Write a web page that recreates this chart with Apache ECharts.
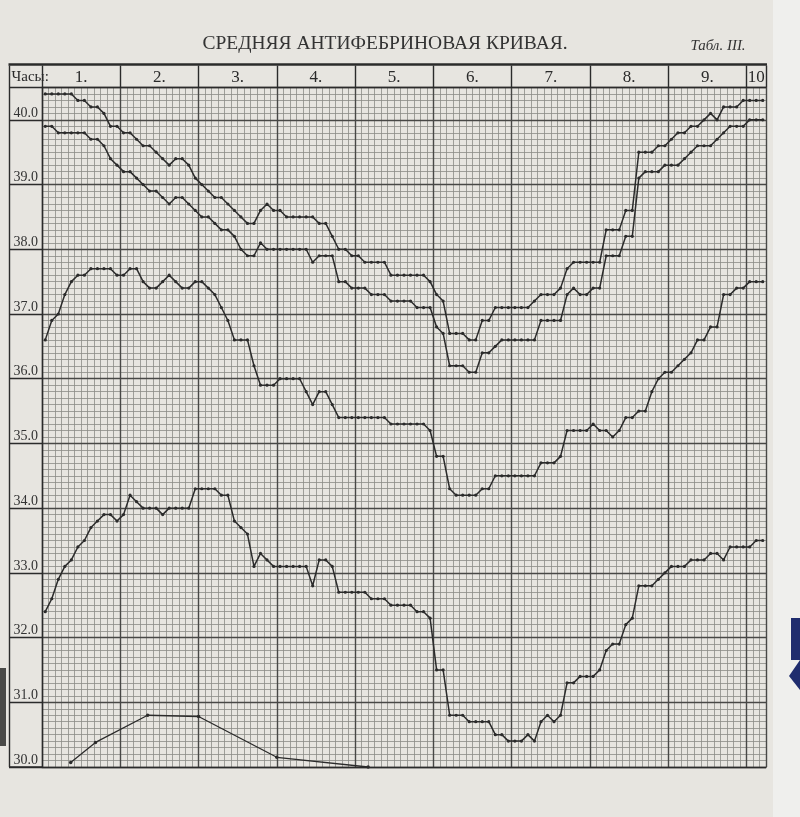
<!DOCTYPE html>
<html><head><meta charset="utf-8">
<script src="https://cdn.jsdelivr.net/npm/echarts@6/dist/echarts.min.js"></script>
<style>html,body{margin:0;padding:0;background:#e7e5e0;}#c{width:800px;height:817px;}</style>
</head><body><div id="c"></div>
<script>
// ---- texts ----
const titleText = 'СРЕДНЯЯ АНТИФЕБРИНОВАЯ КРИВАЯ.';
const tableText = 'Табл. III.';
const hoursText = 'Часы:';
const hourLabels = ['1.', '2.', '3.', '4.', '5.', '6.', '7.', '8.', '9.', '10'];
// ---- axes (minutes / degrees) ----
const timeMax = 555;          // 9 h 15 min
const tempMin = 30.0, tempMax = 40.5;
const stepMinutes = 5;        // one reading every 5 minutes (plotted at mid-cell)
// ---- temperature readings, one per 5-minute cell ----
const curveA = [
  40.4,40.4,40.4,40.4,40.4,40.3,40.3,40.2,40.2,40.1,
  39.9,39.9,39.8,39.8,39.7,39.6,39.6,39.5,39.4,39.3,
  39.4,39.4,39.3,39.1,39.0,38.9,38.8,38.8,38.7,38.6,
  38.5,38.4,38.4,38.6,38.7,38.6,38.6,38.5,38.5,38.5,
  38.5,38.5,38.4,38.4,38.2,38.0,38.0,37.9,37.9,37.8,
  37.8,37.8,37.8,37.6,37.6,37.6,37.6,37.6,37.6,37.5,
  37.3,37.2,36.7,36.7,36.7,36.6,36.6,36.9,36.9,37.1,
  37.1,37.1,37.1,37.1,37.1,37.2,37.3,37.3,37.3,37.4,
  37.7,37.8,37.8,37.8,37.8,37.8,38.3,38.3,38.3,38.6,
  38.6,39.5,39.5,39.5,39.6,39.6,39.7,39.8,39.8,39.9,
  39.9,40.0,40.1,40.0,40.2,40.2,40.2,40.3,40.3,40.3,40.3
];
const curveB = [
  39.9,39.9,39.8,39.8,39.8,39.8,39.8,39.7,39.7,39.6,
  39.4,39.3,39.2,39.2,39.1,39.0,38.9,38.9,38.8,38.7,
  38.8,38.8,38.7,38.6,38.5,38.5,38.4,38.3,38.3,38.2,
  38.0,37.9,37.9,38.1,38.0,38.0,38.0,38.0,38.0,38.0,
  38.0,37.8,37.9,37.9,37.9,37.5,37.5,37.4,37.4,37.4,
  37.3,37.3,37.3,37.2,37.2,37.2,37.2,37.1,37.1,37.1,
  36.8,36.7,36.2,36.2,36.2,36.1,36.1,36.4,36.4,36.5,
  36.6,36.6,36.6,36.6,36.6,36.6,36.9,36.9,36.9,36.9,
  37.3,37.4,37.3,37.3,37.4,37.4,37.9,37.9,37.9,38.2,
  38.2,39.1,39.2,39.2,39.2,39.3,39.3,39.3,39.4,39.5,
  39.6,39.6,39.6,39.7,39.8,39.9,39.9,39.9,40.0,40.0,40.0
];
const curveC = [
  36.6,36.9,37.0,37.3,37.5,37.6,37.6,37.7,37.7,37.7,
  37.7,37.6,37.6,37.7,37.7,37.5,37.4,37.4,37.5,37.6,
  37.5,37.4,37.4,37.5,37.5,37.4,37.3,37.1,36.9,36.6,
  36.6,36.6,36.2,35.9,35.9,35.9,36.0,36.0,36.0,36.0,
  35.8,35.6,35.8,35.8,35.6,35.4,35.4,35.4,35.4,35.4,
  35.4,35.4,35.4,35.3,35.3,35.3,35.3,35.3,35.3,35.2,
  34.8,34.8,34.3,34.2,34.2,34.2,34.2,34.3,34.3,34.5,
  34.5,34.5,34.5,34.5,34.5,34.5,34.7,34.7,34.7,34.8,
  35.2,35.2,35.2,35.2,35.3,35.2,35.2,35.1,35.2,35.4,
  35.4,35.5,35.5,35.8,36.0,36.1,36.1,36.2,36.3,36.4,
  36.6,36.6,36.8,36.8,37.3,37.3,37.4,37.4,37.5,37.5,37.5
];
const curveD = [
  32.4,32.6,32.9,33.1,33.2,33.4,33.5,33.7,33.8,33.9,
  33.9,33.8,33.9,34.2,34.1,34.0,34.0,34.0,33.9,34.0,
  34.0,34.0,34.0,34.3,34.3,34.3,34.3,34.2,34.2,33.8,
  33.7,33.6,33.1,33.3,33.2,33.1,33.1,33.1,33.1,33.1,
  33.1,32.8,33.2,33.2,33.1,32.7,32.7,32.7,32.7,32.7,
  32.6,32.6,32.6,32.5,32.5,32.5,32.5,32.4,32.4,32.3,
  31.5,31.5,30.8,30.8,30.8,30.7,30.7,30.7,30.7,30.5,
  30.5,30.4,30.4,30.4,30.5,30.4,30.7,30.8,30.7,30.8,
  31.3,31.3,31.4,31.4,31.4,31.5,31.8,31.9,31.9,32.2,
  32.3,32.8,32.8,32.8,32.9,33.0,33.1,33.1,33.1,33.2,
  33.2,33.2,33.3,33.3,33.2,33.4,33.4,33.4,33.4,33.5,33.5
];
// bottom curve: sparse points (minutes, scale value)
const curveETimes  = [22, 41, 81, 120, 180, 250];
const curveEValues = [30.07, 30.38, 30.8, 30.78, 30.15, 30.0];

// ---- styles ----
const ink = '#2b2b2b';
const serif = '"Liberation Serif","DejaVu Serif",serif';
const fineGrid = '#8c8b87';
const majorGrid = '#484846';

function toSeries(arr) { return arr.map((v, i) => [i * stepMinutes + stepMinutes / 2, v]); }
function lineSeries(name, data) {
  return {
    name, type: 'line', data, xAxisIndex: 0, yAxisIndex: 0,
    symbol: 'circle', symbolSize: 3.2, showSymbol: true,
    lineStyle: { color: ink, width: 1.5 }, itemStyle: { color: ink },
    z: 5, silent: true, animation: false
  };
}

const chart = echarts.init(document.getElementById('c'), null, { renderer: 'canvas' });
const GL = 42, GR = 34, GT = 87.5, GB = 50;

const option = {
  backgroundColor: '#e7e5e0',
  animation: false,
  grid: { left: GL, right: GR, top: GT, bottom: GB, containLabel: false },
  xAxis: [
    { type: 'value', min: 0, max: timeMax, interval: 60, position: 'bottom', z: 3,
      axisLine: { show: true, lineStyle: { color: ink, width: 1.4 } },
      axisTick: { show: false }, axisLabel: { show: false },
      splitLine: { show: true, lineStyle: { color: majorGrid, width: 1.4 } } },
    { type: 'value', min: 0, max: timeMax, interval: 5, position: 'top', z: 1,
      axisLine: { show: false }, axisTick: { show: false }, axisLabel: { show: false },
      splitLine: { show: true, lineStyle: { color: fineGrid, width: 0.8 } } },
    { type: 'value', min: 0, max: timeMax, interval: 60, position: 'top', z: 3,
      axisLine: { show: true, lineStyle: { color: ink, width: 1.4 } },
      axisTick: { show: true, inside: false, length: 22, lineStyle: { color: ink, width: 1.4 } },
      axisLabel: { show: false }, splitLine: { show: false } }
  ],
  yAxis: [
    { type: 'value', min: tempMin, max: tempMax, interval: 1, z: 3,
      axisLine: { show: true, lineStyle: { color: ink, width: 1.4 } },
      axisTick: { show: true, inside: false, length: 33, lineStyle: { color: ink, width: 1.3 } },
      axisLabel: { show: true, showMaxLabel: false, formatter: v => v.toFixed(1), margin: 4,
        verticalAlign: 'bottom', align: 'right', color: '#333', fontFamily: serif, fontSize: 14 },
      splitLine: { show: true, lineStyle: { color: majorGrid, width: 1.4 } } },
    { type: 'value', min: tempMin, max: tempMax, interval: 0.1, z: 1,
      axisLine: { show: false }, axisTick: { show: false }, axisLabel: { show: false },
      splitLine: { show: true, lineStyle: { color: fineGrid, width: 0.8 } } }
  ],
  series: [
    lineSeries('A', toSeries(curveA)),
    lineSeries('B', toSeries(curveB)),
    lineSeries('C', toSeries(curveC)),
    lineSeries('D', toSeries(curveD)),
    Object.assign(lineSeries('E', curveETimes.map((t, i) => [t, curveEValues[i]])),
      { symbolSize: 3.5, lineStyle: { color: ink, width: 1.3 } })
  ]
};
chart.setOption(option);

// ---- frame, header texts and title, positioned from the axes ----
const P = (x, y) => chart.convertToPixel({ xAxisIndex: 0, yAxisIndex: 0 }, [x, y]);
const [x0, yTop] = P(0, tempMax);
const [xEnd, yBot] = P(timeMax, tempMin);
const frameLeft = 9.5, headerTop = yTop - 22;
const g = [];
// scan edge decorations
g.push({ type: 'rect', shape: { x: 773, y: 0, width: 27, height: 817 }, style: { fill: '#efefed' }, z: -10 });
g.push({ type: 'rect', shape: { x: 791, y: 618, width: 9, height: 42 }, style: { fill: '#1f2c6e' }, z: -9 });
g.push({ type: 'polygon', shape: { points: [[800, 660], [789, 676], [800, 690]] }, style: { fill: '#1f2c6e' }, z: -9 });
g.push({ type: 'rect', shape: { x: 0, y: 668, width: 6, height: 78 }, style: { fill: '#4a4a48' }, z: -9 });
// outer frame
g.push({ type: 'line', shape: { x1: frameLeft, y1: headerTop, x2: frameLeft, y2: yBot }, style: { stroke: ink, lineWidth: 1.4 }, z: 10 });
g.push({ type: 'line', shape: { x1: frameLeft, y1: yBot, x2: x0, y2: yBot }, style: { stroke: ink, lineWidth: 1.4 }, z: 10 });
g.push({ type: 'line', shape: { x1: frameLeft - 1, y1: headerTop - 1, x2: xEnd + 1, y2: headerTop - 1 }, style: { stroke: ink, lineWidth: 2.6 }, z: 10 });
g.push({ type: 'line', shape: { x1: frameLeft, y1: yTop, x2: x0, y2: yTop }, style: { stroke: ink, lineWidth: 1.4 }, z: 10 });
// header labels at column centres
const bounds = [];
for (let m = 0; m < timeMax; m += 60) bounds.push(m);
bounds.push(timeMax);
hourLabels.forEach((lab, i) => {
  const mid = (bounds[i] + bounds[i + 1]) / 2;
  const [cx] = P(mid, tempMax);
  g.push({ type: 'text', x: cx, y: (headerTop + yTop) / 2 + 1,
    style: { text: lab, fill: '#2a2a2a', font: '17px ' + serif, align: 'center', verticalAlign: 'middle' }, z: 11 });
});
g.push({ type: 'text', x: frameLeft + 2, y: (headerTop + yTop) / 2 + 1,
  style: { text: hoursText, fill: '#2a2a2a', font: '15px ' + serif, align: 'left', verticalAlign: 'middle' }, z: 11 });
// title
g.push({ type: 'text', x: 385, y: 44,
  style: { text: titleText, fill: '#333', font: '19.5px ' + serif, align: 'center', verticalAlign: 'middle' }, z: 11 });
g.push({ type: 'text', x: 718, y: 46,
  style: { text: tableText, fill: '#333', font: 'italic 15px ' + serif, align: 'center', verticalAlign: 'middle' }, z: 11 });
chart.setOption({ graphic: g });
</script>
</body></html>
